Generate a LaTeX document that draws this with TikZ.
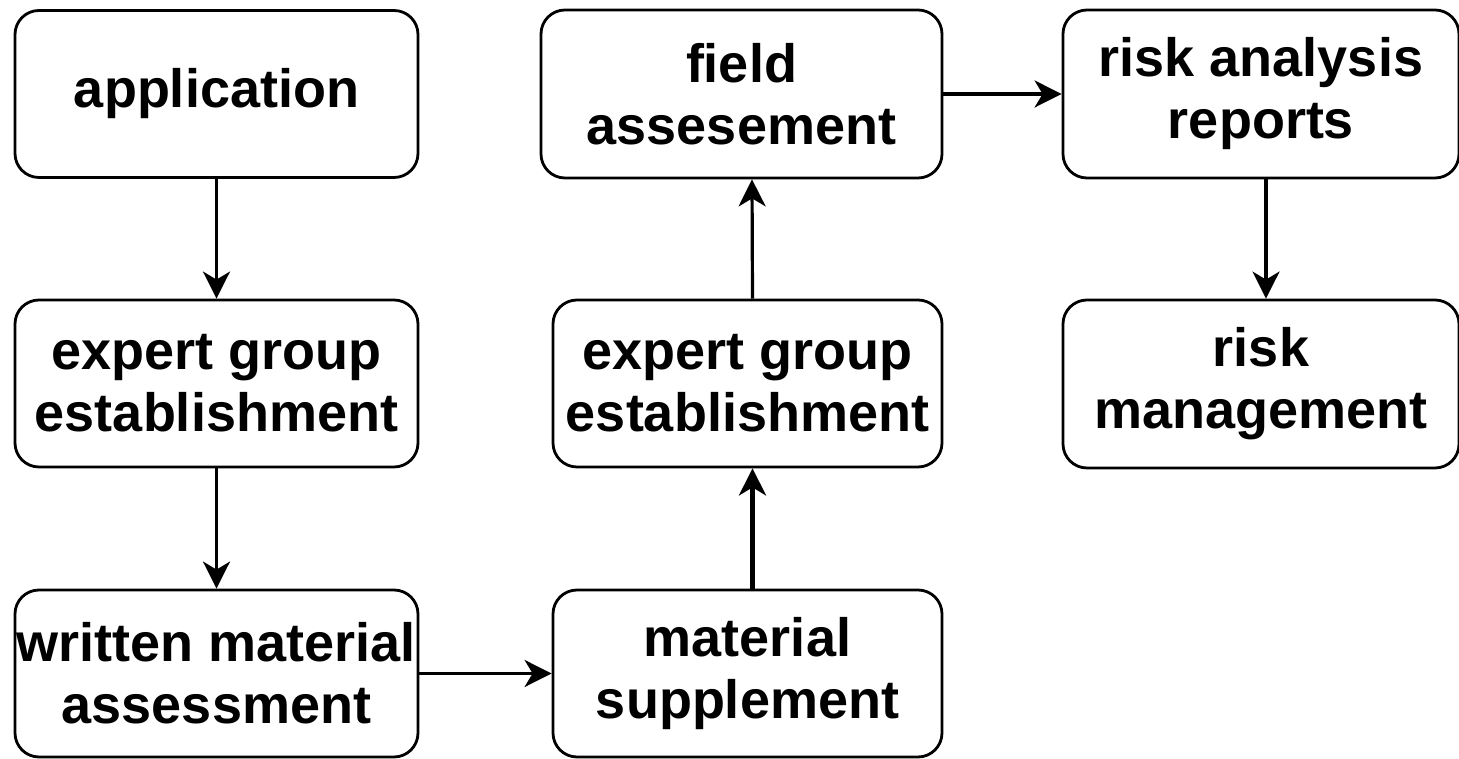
\documentclass[tikz,border=0pt]{standalone}
\usepackage{fontspec}
\setmainfont{Liberation Sans}
\usetikzlibrary{arrows.meta}

\begin{document}
\begin{tikzpicture}[
	x=1pt, y=1pt,
	every node/.style={
		rectangle, draw,
		rounded corners=24pt,
		line width=2.8pt,
		inner sep=0pt,
		align=center,
		font=\fontsize{54}{62}\selectfont\bfseries
	},
	col1/.style={minimum width=403pt, minimum height=167pt},
	col2/.style={minimum width=389pt, minimum height=167pt},
	col3/.style={minimum width=396pt, minimum height=168pt},
	flow/.style={-{Stealth[length=27pt,width=27pt,inset=8pt]}, line width=3.2pt}
]
\useasboundingbox (0,0) rectangle (1459,759);

\node[col1] (app) at (216.5,665) {application};
\node[col1] (exp1) at (216.5,375.5) {expert group\\establishment};
\node[col1] (written) at (216.5,85.5) {written material\\assessment};
\node[col2] (supp) at (747.5,85.5) {material\\supplement};
\node[col2] (exp2) at (747.5,375.5) {expert group\\establishment};
\node[col2, minimum width=401pt, minimum height=168pt] (field) at (741.5,665) {field\\assesement};
\node[col3] (report) at (1261,665) {risk analysis\\reports};
\node[col3] (mgmt) at (1261,375) {risk\\management};

\draw[flow] (app) -- (exp1);
\draw[flow] (exp1) -- (written);
\draw[flow] (written) -- (supp);
\draw[flow, line width=4.5pt] ([xshift=5pt]supp.north) -- ([xshift=5pt]exp2.south);
\draw[flow] ([xshift=5pt]exp2.north) -- ([xshift=10.5pt]field.south);
\draw[flow] (field) -- (report);
\draw[flow] ([xshift=5pt]report.south) -- ([xshift=5pt]mgmt.north);
\end{tikzpicture}
\end{document}
